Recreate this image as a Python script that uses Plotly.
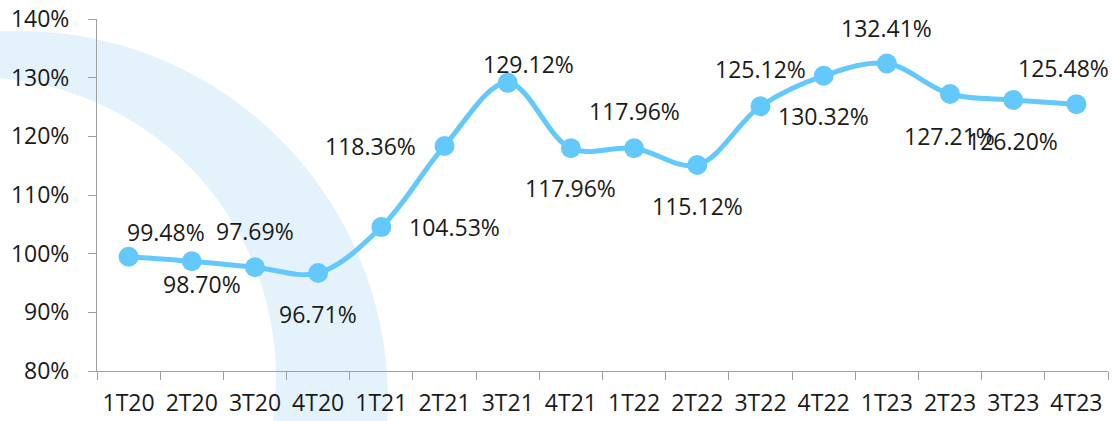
import numpy as np
import plotly.graph_objects as go

# quarters and ratio values (%)
quarters = ["1T20", "2T20", "3T20", "4T20", "1T21", "2T21", "3T21", "4T21",
            "1T22", "2T22", "3T22", "4T22", "1T23", "2T23", "3T23", "4T23"]
ratios = [99.48, 98.70, 97.69, 96.71, 104.53, 118.36, 129.12, 117.96,
          117.96, 115.12, 125.12, 130.32, 132.41, 127.21, 126.20, 125.48]

# label offsets in pixels (x right, y up)
label_dx = [37, 10, 0, 0, 73, -74, 21, 0, 0, 0, 0, 0, 0, -1, -1, -13]
label_dy = [25, -23, 36, -41, 0, 0, 19, -40, 37, -41, 37, -40, 36, -42, -41, 36]

W, H = 1115, 421
ML, MR, MT, MB = 97, 7, 19, 50
PW, PH = W - ML - MR, H - MT - MB

LINE_COLOR = "#63C9FC"
FONT = "Open Sans"


def to_paper(px, py):
    return (px - ML) / PW, (H - MB - py) / PH


def circle_path(cx, cy, r, n=180):
    t = np.linspace(0, 2 * np.pi, n, endpoint=False)
    pts = [to_paper(cx + r * np.cos(a), cy + r * np.sin(a)) for a in t]
    return "M " + " L ".join(f"{x:.5f},{y:.5f}" for x, y in pts) + " Z"


# decorative background arc (annulus between two circles)
arc_path = circle_path(19, 400, 369) + " " + circle_path(-25, 378, 301)

fig = go.Figure()
fig.add_trace(go.Scatter(
    x=quarters, y=ratios,
    mode="lines+markers",
    line=dict(color=LINE_COLOR, width=5, shape="spline", smoothing=1),
    marker=dict(color=LINE_COLOR, size=20),
    hovertemplate="%{x}: %{y:.2f}%<extra></extra>",
))

for q, v, dx, dy in zip(quarters, ratios, label_dx, label_dy):
    fig.add_annotation(
        x=q, y=v, text=f"{v:.2f}%", showarrow=False,
        xshift=dx, yshift=dy,
        font=dict(family=FONT, size=23, color="#1a1a1a"),
    )

fig.add_shape(
    type="path", path=arc_path, xref="paper", yref="paper",
    fillcolor="#E4F3FB", fillrule="evenodd", line=dict(width=0), layer="below",
)

fig.update_layout(
    width=W, height=H,
    margin=dict(l=ML, r=MR, t=MT, b=MB),
    paper_bgcolor="white", plot_bgcolor="rgba(0,0,0,0)",
    showlegend=False,
    font=dict(family=FONT, size=23, color="#1a1a1a"),
)
fig.update_xaxes(
    type="category", range=[-0.5, len(quarters) - 0.5], automargin=False,
    tickson="boundaries", ticks="outside", ticklen=8,
    tickcolor="#A0A0A0", showline=True, linecolor="#A0A0A0", linewidth=1,
    showgrid=False, zeroline=False, ticklabelstandoff=11,
)
fig.update_yaxes(
    range=[80, 140], dtick=10, ticksuffix="%", automargin=False,
    ticks="outside", ticklen=8,
    tickcolor="#A0A0A0", showline=True, linecolor="#A0A0A0", linewidth=1,
    showgrid=False, zeroline=False, ticklabelstandoff=14,
)

fig.write_html(
    "out.html",
    config={"displayModeBar": False},
    post_script="document.body.style.margin='0';",
)
